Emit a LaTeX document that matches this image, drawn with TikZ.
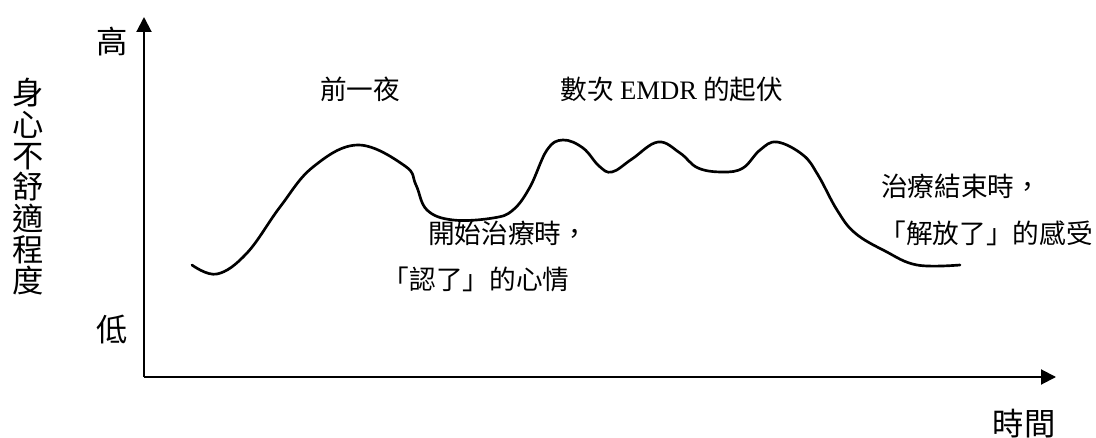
\documentclass[tikz,border=0pt]{standalone}
\usepackage{fontspec}
\setmainfont{Liberation Serif}
\newfontfamily\cjk{Noto Sans CJK TC}
\usetikzlibrary{arrows.meta}
\tikzset{
  axis/.style={line width=1.5pt, -{Triangle[length=11.25pt,width=11.25pt]}},
  curveline/.style={line width=2pt, line join=round, line cap=round},
  lbl/.style={font=\cjk\fontsize{20}{24}\selectfont, inner sep=0pt, anchor=center},
  axlbl/.style={font=\cjk\fontsize{23.5}{23.5}\selectfont, inner sep=0pt, anchor=center, align=center}
}
\begin{document}
\begin{tikzpicture}[x=0.75pt,y=-0.75pt]
\useasboundingbox (0,0) rectangle (1096,438);
\fill[white] (0,0) rectangle (1096,438);
% axes
\coordinate (O) at (144,377);
\coordinate (ytop) at (144,17);
\coordinate (xend) at (1056,377);
\draw[axis] (O) -- (ytop);
\draw[axis] (O) -- (xend);
% axis labels
\node[axlbl] (hi) at (112,42) {高};
\node[axlbl] (lo) at (112,329) {低};
\node[axlbl] (ylab) at (28,187) {身\\心\\不\\舒\\適\\程\\度};
\node[axlbl] (xlab) at (1024,424) {時間};
% curve
\draw[curveline] plot[smooth, tension=0.65] coordinates {
 (192,265) (217,274) (247,253) (280,207) (313,167) (358,145) (405,166)
 (416,185) (427,210) (453,220) (493,218) (513,210) (530,187) (547,150)
 (563,140) (583,148) (599,166) (612,172) (632,159) (658,142) (680,153)
 (698,168) (723,172) (743,168) (760,150) (777,142) (803,155) (818,175)
 (837,210) (855,233) (885,251) (917,265) (960,265)};
% labels
\node[lbl] (night) at (360,89) {前一夜};
\node[lbl] (emdr) at (672,89) {數次 {\fontspec{Liberation Serif}EMDR} 的起伏};
\node[lbl] (start1) at (508,233) {開始治療時，};
\node[lbl] (start2) at (476,279) {「認了」的心情};
\node[lbl] (end1) at (961,186) {治療結束時，};
\node[lbl] (end2) at (986,233) {「解放了」的感受};
\end{tikzpicture}
\end{document}
